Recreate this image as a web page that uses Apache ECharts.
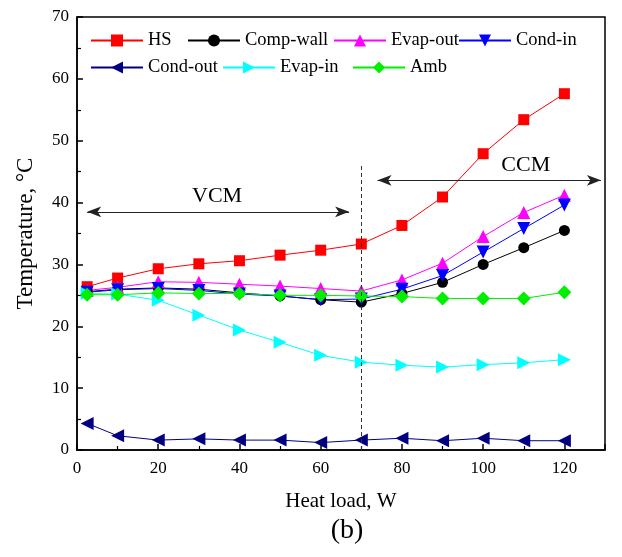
<!DOCTYPE html>
<html>
<head>
<meta charset="utf-8">
<script src="https://cdn.jsdelivr.net/npm/echarts@6/dist/echarts.min.js"></script>
<style>
  html, body { margin: 0; padding: 0; background: #fff; }
  #chart { width: 622px; height: 557px; }
</style>
</head>
<body>
<div id="chart"></div>
<script>
// heat load, W
const heatLoad = [2.5, 10, 20, 30, 40, 50, 60, 70, 80, 90, 100, 110, 120];

// temperatures, degC
const hs       = [26.4, 27.8, 29.3, 30.1, 30.6, 31.5, 32.3, 33.3, 36.3, 40.9, 47.9, 53.4, 57.6];
const compWall = [25.6, 26.0, 26.2, 26.0, 25.4, 24.9, 24.3, 23.9, 25.3, 27.1, 30.0, 32.7, 35.5];
const evapOut  = [25.8, 26.3, 27.2, 27.1, 26.8, 26.5, 26.1, 25.7, 27.5, 30.2, 34.5, 38.4, 41.2];
const condIn   = [25.5, 25.9, 26.1, 25.8, 25.2, 24.9, 24.3, 24.4, 26.0, 28.2, 32.0, 35.8, 39.6];
const condOut  = [4.3, 2.3, 1.6, 1.8, 1.6, 1.6, 1.2, 1.6, 1.9, 1.5, 1.9, 1.5, 1.5];
const evapIn   = [25.3, 25.2, 24.2, 21.8, 19.4, 17.4, 15.3, 14.2, 13.7, 13.4, 13.8, 14.1, 14.6];
const amb      = [25.1, 25.1, 25.4, 25.3, 25.3, 25.0, 25.0, 24.9, 24.8, 24.5, 24.5, 24.5, 25.5];

// annotations
const modeSwitch = [70, 46.4];           // x, top of dashed line
const vcmArrow = [2.5, 67, 38.5];        // x from, x to, y
const ccmArrow = [74, 129, 43.6];
const vcmLabel = [34.5, 41.0];
const ccmLabel = [110.5, 46.0];

const FONT = "Liberation Serif";

const toPts = (ys) => ys.map((y, i) => [heatLoad[i], y]);

function lineSeries(name, ys, color, symbol, size) {
    return {
        name: name,
        type: "line",
        data: toPts(ys),
        symbol: symbol,
        symbolSize: size,
        itemStyle: { color: color },
        lineStyle: { color: color, width: 1 },
        z: 3,
    };
}

const series = [
    lineSeries("HS", hs, "#ff0000", "rect", 11),
    lineSeries("Comp-wall", compWall, "#000000", "circle", 11),
    lineSeries("Evap-out", evapOut, "#ff00ff", "triangle", 13),
    lineSeries("Cond-in", condIn, "#0000ff", "path://M0,0L10,0L5,9Z", 13),
    lineSeries("Cond-out", condOut, "#000080", "path://M0,5L9,0L9,10Z", 13),
    lineSeries("Evap-in", evapIn, "#00ffff", "path://M0,0L9,5L0,10Z", 13),
    lineSeries("Amb", amb, "#00ee00", "diamond", 14),
];

// annotation series (no data, only marks)
series.push({
    type: "line",
    data: [],
    silent: true,
    markLine: {
        silent: true,
        animation: false,
        label: { show: false },
        data: [
            [
                { coord: [modeSwitch[0], 0], symbol: "none", lineStyle: { type: [4, 3], color: "#333", width: 1 } },
                { coord: [modeSwitch[0], modeSwitch[1]], symbol: "none" },
            ],
            [
                { coord: [vcmArrow[0], vcmArrow[2]], symbol: "arrow", symbolSize: [8, 14], lineStyle: { type: "solid", color: "#222", width: 1 } },
                { coord: [vcmArrow[1], vcmArrow[2]], symbol: "arrow", symbolSize: [8, 14] },
            ],
            [
                { coord: [ccmArrow[0], ccmArrow[2]], symbol: "arrow", symbolSize: [8, 14], lineStyle: { type: "solid", color: "#222", width: 1 } },
                { coord: [ccmArrow[1], ccmArrow[2]], symbol: "arrow", symbolSize: [8, 14] },
            ],
        ],
    },
    markPoint: {
        silent: true,
        animation: false,
        symbol: "circle",
        symbolSize: 0,
        label: {
            show: true,
            color: "#000",
            fontFamily: FONT,
            fontSize: 22,
            formatter: (p) => p.name,
        },
        data: [
            { name: "VCM", coord: vcmLabel },
            { name: "CCM", coord: ccmLabel },
        ],
    },
});

// one legend per item so the layout follows the original figure
const legendSpots = [
    ["HS", 90, 31], ["Comp-wall", 187, 31], ["Evap-out", 333, 31], ["Cond-in", 458, 31],
    ["Cond-out", 90, 58], ["Evap-in", 222, 58], ["Amb", 352, 58],
];
const legends = legendSpots.map(([name, left, top]) => ({
    data: [name],
    left: left,
    top: top,
    padding: 0,
    itemWidth: 52,
    itemHeight: 15,
    itemGap: 0,
    textStyle: { fontFamily: FONT, fontSize: 18.5, color: "#000" },
}));

const option = {
    animation: false,
    backgroundColor: "#fff",
    title: {
        text: "(b)",
        left: 342,
        top: 512,
        textAlign: "center",
        textStyle: { fontFamily: FONT, fontSize: 28, fontWeight: "normal", color: "#000" },
    },
    legend: legends,
    grid: {
        left: 77,
        right: 17,
        top: 17,
        bottom: 107,
        show: true,
        borderColor: "#000",
        borderWidth: 1.5,
        backgroundColor: "transparent",
    },
    xAxis: {
        type: "value",
        min: 0,
        max: 130,
        interval: 20,
        name: "Heat load, W",
        nameLocation: "middle",
        nameGap: 41,
        nameTextStyle: { fontFamily: FONT, fontSize: 21, color: "#000" },
        axisLine: { show: true, onZero: false, lineStyle: { color: "#000", width: 1.5 } },
        axisTick: { show: true, inside: true, length: 6, lineStyle: { color: "#000", width: 1.5 } },
        minorTick: { show: true, splitNumber: 2, length: 4, lineStyle: { color: "#000", width: 1.2 } },
        axisLabel: {
            fontFamily: FONT,
            fontSize: 17,
            color: "#000",
            margin: 10,
            formatter: (v) => (v > 120 ? "" : String(v)),
        },
        splitLine: { show: false },
    },
    yAxis: {
        type: "value",
        min: 0,
        max: 70,
        interval: 10,
        name: "Temperature, \u00B0C",
        nameLocation: "middle",
        nameGap: 40,
        nameTextStyle: { fontFamily: FONT, fontSize: 23, color: "#000" },
        axisLine: { show: true, onZero: false, lineStyle: { color: "#000", width: 1.5 } },
        axisTick: { show: true, inside: true, length: 6, lineStyle: { color: "#000", width: 1.5 } },
        minorTick: { show: true, splitNumber: 2, length: 4, lineStyle: { color: "#000", width: 1.2 } },
        axisLabel: { fontFamily: FONT, fontSize: 17, color: "#000", margin: 8 },
        splitLine: { show: false },
    },
    series: series,
};

const chart = echarts.init(document.getElementById("chart"), null, { renderer: "canvas" });
chart.setOption(option);
</script>
</body>
</html>
